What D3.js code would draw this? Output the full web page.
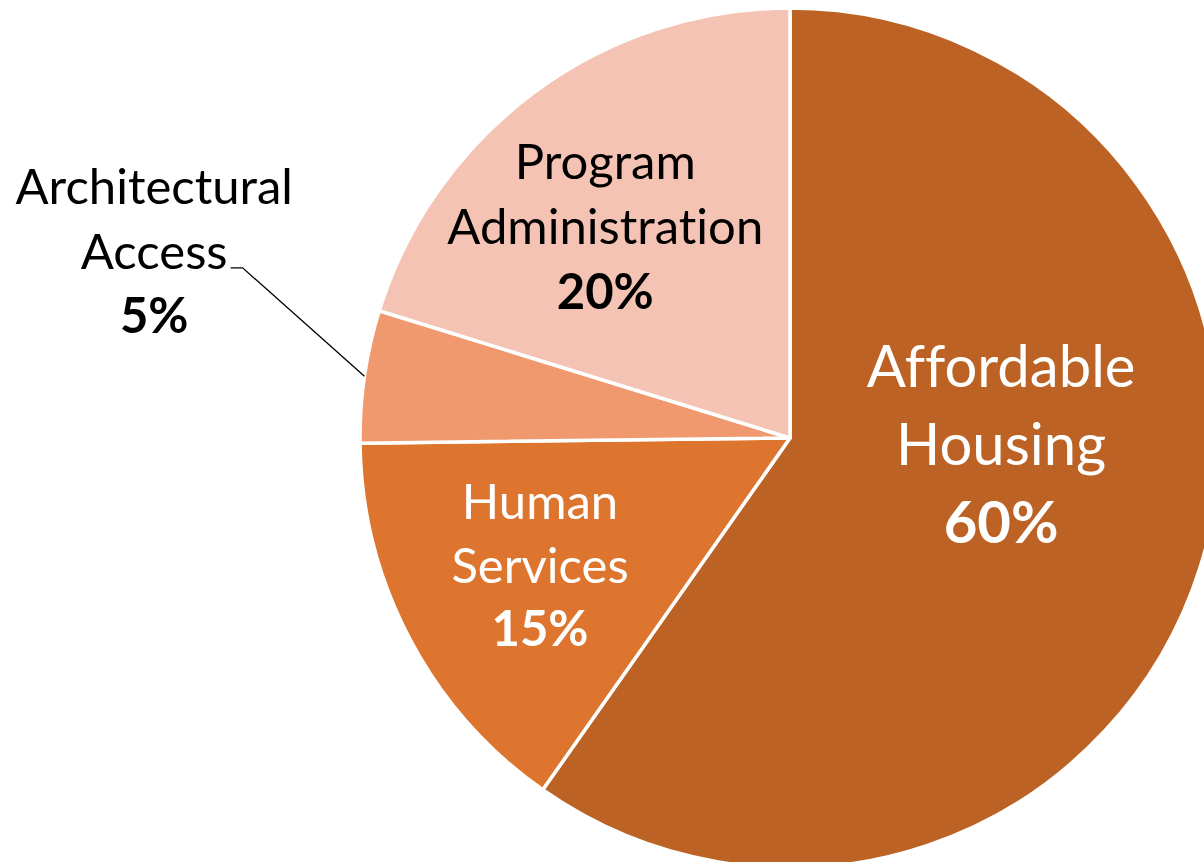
<!DOCTYPE html>
<html>
<head>
<meta charset="utf-8">
<script src="https://cdn.jsdelivr.net/npm/d3@7"></script>
<style>
  html, body { margin: 0; padding: 0; background: #fff; }
  svg { display: block; }
  text { font-family: Lato, "Open Sans", sans-serif; font-variant-ligatures: none; font-feature-settings: "liga" 0, "clig" 0; }
</style>
</head>
<body>
<script>
// ---- data ----
const categories = ["Affordable Housing", "Human Services", "Architectural Access", "Program Administration"];
const values = [59.75, 15.06, 4.97, 20.22];
const nameLines = [["Affordable", "Housing"], ["Human", "Services"], ["Architectural", "Access"], ["Program", "Administration"]];
const colors = ["#BB6224", "#DE752F", "#F0996F", "#F5C3B3"];

// ---- layout ----
const W = 1204, H = 862;
const cx = 790, cy = 438, R = 430;
// label style/placement per slice (polar, relative to pie centre)
const labelCfg = [
  { r: 0.495, a: 97.3, size: 58, lh: 78, fill: "#fff", outside: false },
  { r: 0.672, a: 239.9, size: 49, lh: 63.5, fill: "#fff", outside: false },
  { r: 1.53, a: 284.9, size: 49, lh: 64.5, fill: "#000", outside: true },
  { r: 0.623, a: 316.4, size: 49, lh: 65, fill: "#000", outside: false }
];

const svg = d3.select("body").append("svg").attr("width", W).attr("height", H);
const g = svg.append("g").attr("transform", `translate(${cx},${cy})`);

const pie = d3.pie().sort(null).value(d => d);
const arcs = pie(values);
const arc = d3.arc().innerRadius(0).outerRadius(R);

g.selectAll("path.slice").data(arcs).enter().append("path")
  .attr("class", "slice")
  .attr("d", arc)
  .attr("fill", (d, i) => colors[i])
  .attr("stroke", "#fff")
  .attr("stroke-width", 3.5)
  .attr("stroke-linejoin", "round");

const total = d3.sum(values);
arcs.forEach((d, i) => {
  const c = labelCfg[i];
  const a = c.a * Math.PI / 180;
  const x = Math.sin(a) * R * c.r;
  const y = -Math.cos(a) * R * c.r; // baseline of middle line
  const t = g.append("text")
    .attr("text-anchor", "middle")
    .attr("fill", c.fill)
    .attr("font-size", c.size);
  const lines = [...nameLines[i], Math.round(values[i] / total * 100) + "%"];
  lines.forEach((ln, k) => {
    t.append("tspan")
      .attr("x", x)
      .attr("y", y + (k - 1) * c.lh)
      .attr("font-weight", k === 2 ? "bold" : "normal")
      .text(ln);
  });
  if (c.outside) {
    const mid = (d.startAngle + d.endAngle) / 2;
    const px = Math.sin(mid) * R, py = -Math.cos(mid) * R;
    const accessW = t.selectAll("tspan").nodes()[1].getComputedTextLength();
    const lx = x + accessW / 2 + 3;
    const ly = y - 1;
    g.append("polyline")
      .attr("points", [[px, py], [lx + 12, ly], [lx, ly]].map(p => p.join(",")).join(" "))
      .attr("fill", "none")
      .attr("stroke", "#000")
      .attr("stroke-width", 1.3);
  }
});
</script>
</body>
</html>
